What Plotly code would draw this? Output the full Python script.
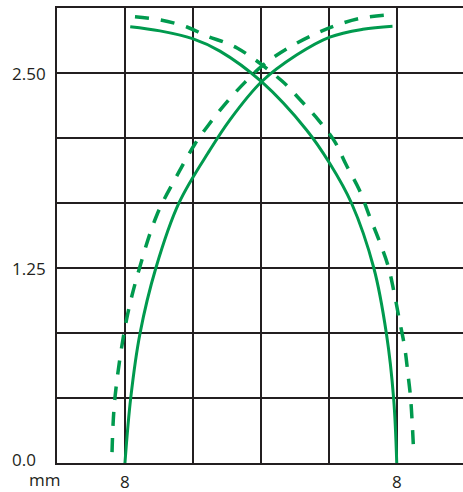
import plotly.graph_objects as go

# -------------------------------------------------
# Data (x in mm, y in value units)
# -------------------------------------------------
solid_rise_x = [-8.0, -7.66, -7.12, -6.18, -4.82, -3.0, -1.82, 0.04, 2.1, 4.06, 6.0, 7.75]
solid_rise_y = [0.0, 0.417, 0.827, 1.25, 1.667, 2.006, 2.2, 2.444, 2.615, 2.73, 2.78, 2.80]

solid_fall_x = [-7.69, -5.94, -4.02, -2.41, 0.04, 2.69, 4.06, 5.34, 6.65, 7.39, 7.82, 8.0]
solid_fall_y = [2.797, 2.77, 2.72, 2.64, 2.444, 2.135, 1.92, 1.665, 1.25, 0.83, 0.41, 0.0]

dashed_rise_x = [-8.76, -8.59, -7.91, -7.15, -6.12, -4.9, -3.88, -3.06, -2.03, -0.94,
                 0.18, 1.56, 3.0, 4.29, 5.82, 7.3]
dashed_rise_y = [0.07, 0.417, 0.917, 1.247, 1.59, 1.85, 2.045, 2.17, 2.31, 2.44,
                 2.555, 2.657, 2.74, 2.80, 2.85, 2.87]

dashed_fall_x = [-7.41, -5.9, -4.35, -3.24, -1.4, 1.23, 2.3, 3.38, 4.35, 5.03, 5.8,
                 6.44, 6.95, 7.5, 7.85, 8.15, 8.47, 8.66, 8.82, 9.0]
dashed_fall_y = [2.86, 2.84, 2.795, 2.74, 2.66, 2.45, 2.33, 2.2, 2.06, 1.91, 1.75,
                 1.57, 1.43, 1.26, 1.09, 0.92, 0.74, 0.57, 0.41, 0.06]

x_grid = [-12, -8, -4, 0, 4, 8]
x_tick_text = ["", "8", "", "", "", "8"]
y_step = 1.25 / 3
y_grid = [i * y_step for i in range(7)]
y_labels = [(0.0, "0.0"), (1.25, "1.25"), (2.5, "2.50")]

GREEN = "#009a4e"
INK = "#231f20"
FONT = dict(family="Open Sans, sans-serif", size=17, color=INK)

fig = go.Figure()

for xs, ys in [(solid_rise_x, solid_rise_y), (solid_fall_x, solid_fall_y)]:
    fig.add_trace(go.Scatter(
        x=xs, y=ys, mode="lines",
        line=dict(color=GREEN, width=3, shape="spline"),
        hoverinfo="skip",
    ))

for xs, ys in [(dashed_rise_x, dashed_rise_y), (dashed_fall_x, dashed_fall_y)]:
    fig.add_trace(go.Scatter(
        x=xs, y=ys, mode="lines",
        line=dict(color=GREEN, width=3.5, shape="spline", dash="14px,12px"),
        hoverinfo="skip",
    ))

# y labels sit left-aligned in the margin (page x ~10px)
for val, txt in y_labels:
    fig.add_annotation(
        x=-0.116, xref="paper", y=val, yref="y",
        text=txt, showarrow=False, xanchor="left",
        yshift=4 if val == 0 else 0,
        font=FONT,
    )

fig.add_annotation(
    x=-0.03, xref="paper", y=0, yref="paper",
    text="mm", showarrow=False, xanchor="center", yanchor="top",
    yshift=-4, borderpad=0,
    font=FONT,
)

fig.update_layout(
    width=463, height=492,
    margin=dict(l=57, r=0, t=8, b=29),
    paper_bgcolor="white", plot_bgcolor="white",
    showlegend=False,
    font=FONT,
    xaxis=dict(
        range=[-12, 11.9],
        tickvals=x_grid, ticktext=x_tick_text,
        showgrid=True, gridcolor=INK, gridwidth=2,
        showline=True, linecolor=INK, linewidth=2, mirror=True,
        zeroline=False, ticks="",
        ticklabelstandoff=3,
        tickfont=FONT,
    ),
    yaxis=dict(
        range=[0, 7 * y_step],
        tickvals=y_grid, showticklabels=False,
        showgrid=True, gridcolor=INK, gridwidth=2,
        showline=True, linecolor=INK, linewidth=2,
        zeroline=False, ticks="",
    ),
)

# drop the page's default body margin so the figure fills the window
fig.write_html(
    "out.html",
    config={"displayModeBar": False},
    post_script="document.body.style.margin='0';document.body.style.overflow='hidden';",
)
